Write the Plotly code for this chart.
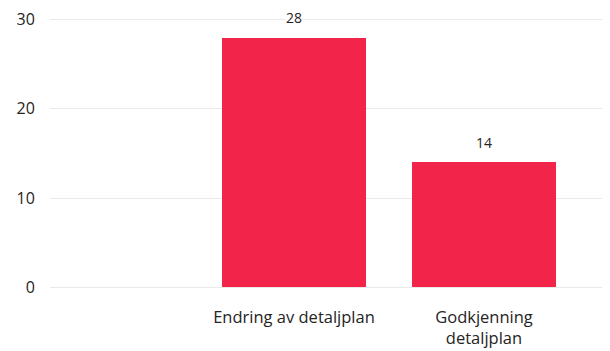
import plotly.graph_objects as go

categories = ["Endring av detaljplan", "Godkjenning<br>detaljplan"]
values = [28, 14]
y_ticks = [0, 10, 20, 30]

FONT = "Open Sans"

fig = go.Figure()
fig.add_trace(go.Bar(
    x=list(range(len(categories))),
    y=values,
    width=0.758,
    marker=dict(color="#F2244A", line=dict(width=0)),
    textposition="none",
    hoverinfo="skip",
))
for i, v in enumerate(values):
    fig.add_annotation(x=i, y=v, text=str(v), showarrow=False, yshift=20,
                       bgcolor="white", borderpad=0,
                       font=dict(size=14, color="#252423", family=FONT))

fig.update_layout(
    width=602, height=343,
    margin=dict(l=42, r=0, t=9.33, b=61.33, autoexpand=False),
    plot_bgcolor="white", paper_bgcolor="white",
    showlegend=False,
    font=dict(family=FONT, size=16, color="#252423"),
    bargap=0,
)
fig.update_xaxes(
    range=[-1.284, 1.663],
    tickmode="array",
    tickvals=list(range(len(categories))),
    ticktext=categories,
    showgrid=False, zeroline=False, showline=False,
    tickfont=dict(size=16.5, color="#252423"),
    ticks="outside", ticklen=12, tickcolor="white",
)
fig.update_yaxes(
    range=[-0.3, 30.3],
    tickvals=y_ticks,
    showgrid=True, gridcolor="#E9E9E9", gridwidth=1,
    zeroline=False, showline=False,
    tickfont=dict(size=16, color="#252423"),
    ticks="outside", ticklen=11, tickcolor="white",
)
fig.write_html("out.html")
